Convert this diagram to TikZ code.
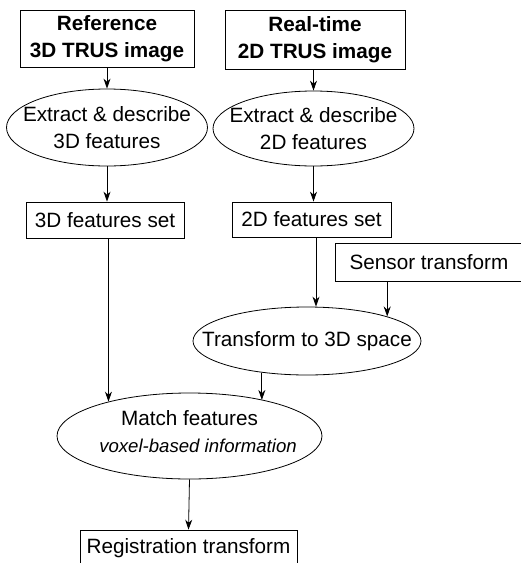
\documentclass[tikz,border=0pt]{standalone}
\usepackage{fontspec}
\setmainfont{Liberation Sans}
\usetikzlibrary{shapes.geometric,arrows.meta,calc}
\begin{document}
\begin{tikzpicture}[x=1pt,y=-1pt,
  every node/.style={font=\fontsize{20.7}{27}\selectfont, align=center, inner sep=0pt},
  box/.style={draw, rectangle, line width=0.8pt},
  oval/.style={draw, ellipse, line width=0.8pt},
  conn/.style={-{Stealth[length=10pt,width=7pt]}, line width=0.8pt}]
\clip (0,0) rectangle (521,563);
\fill[white] (0,0) rectangle (521,563);
\node[box, minimum width=174, minimum height=57] (ref) at (107,38.5) {\textbf{Reference}\\\textbf{3D TRUS image}};
\node[box, minimum width=180, minimum height=59] (rt) at (315,39.5) {\textbf{Real-time}\\\textbf{2D TRUS image}};
\node[oval, minimum width=201, minimum height=77] (e1) at (107,127.5) {};
\node (e1t) at (e1.center) {Extract \& describe\\3D features};
\node[oval, minimum width=201, minimum height=75] (e2) at (313.5,128.5) {};
\node (e2t) at (e2.center) {Extract \& describe\\2D features};
\node[box, minimum width=158, minimum height=36] (s3) at (105,220) {3D features set};
\node[box, minimum width=159, minimum height=35] (s2) at (311.5,219.5) {2D features set};
\node[box, minimum width=188, minimum height=38] (sensor) at (429,262) {Sensor transform};
\node[oval, minimum width=228, minimum height=68] (tr) at (307,341) {};
\node (trt) at (tr.center) {Transform to 3D space};
\node[oval, minimum width=265, minimum height=86] (match) at (189.5,436) {};
\node (matcht) at (189.5,418) {Match features};
\node[font=\fontsize{18.6}{22}\selectfont\itshape] (matchi) at (198,446) {voxel-based information};
\node[box, minimum width=217, minimum height=36] (reg) at (188.5,548) {Registration transform};
\coordinate (a1) at (316,0);
\draw[conn] (ref.south) -- (e1.north);
\draw[conn] (rt.south -| e2.north) -- (e2.north);
\draw[conn] (e1.south) -- (e1.south |- s3.north);
\draw[conn] (e2.south) -- (e2.south |- s2.north);
\draw[conn] (s2.south -| a1) -- (tr.north -| a1);
\draw[conn] (sensor.south -| tr.17.8) -- (tr.17.8);
\draw[conn] (s3.south -| match.157.8) -- (match.157.8);
\draw[conn] (tr.215.5) -- (tr.215.5 |- match.26);
\draw[conn] (match.south) -- (reg.north);
\end{tikzpicture}
\end{document}
